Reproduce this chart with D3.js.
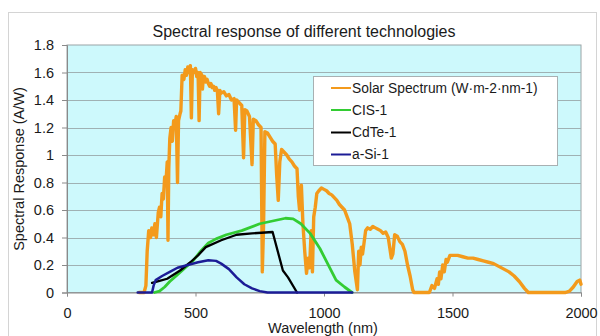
<!DOCTYPE html>
<html>
<head>
<meta charset="utf-8">
<script src="https://cdn.jsdelivr.net/npm/d3@7"></script>
<style>
  html, body { margin: 0; padding: 0; background: #ffffff; }
  svg { display: block; font-family: "Liberation Sans", Arial, sans-serif; }
</style>
</head>
<body>
<svg id="chart" width="600" height="336"></svg>
<script>
// Wavelength (nm) and irradiance for the AM1.5 solar spectrum
const solarWavelength = [280,300,307,312,318,325,330,336,342,348,355,360,365,370,375,380,385,390,393,396,400,405,410,415,420,425,430,434,440,443,448,455,460,465,470,475,480,484,488,495,500,505,510,514,518,525,527,530,535,540,545,550,555,560,565,570,575,580,585,590,595,600,610,620,630,640,650,656,660,670,680,687,692,700,710,720,725,735,745,755,760,765,770,780,790,800,810,816,822,828,835,845,855,865,875,885,895,900,905,912,918,925,932,938,944,950,955,960,966,972,980,990,1000,1010,1020,1030,1040,1050,1060,1070,1080,1090,1100,1110,1120,1130,1135,1140,1145,1150,1155,1162,1170,1180,1190,1200,1210,1220,1230,1240,1250,1262,1268,1275,1285,1295,1305,1315,1325,1335,1345,1350,1410,1420,1430,1440,1445,1450,1455,1462,1468,1475,1480,1490,1500,1520,1540,1560,1580,1600,1620,1640,1660,1680,1700,1720,1740,1760,1780,1795,1940,1955,1970,1985,1995,2000];
const solarValue = [0,0,0.05,0.3,0.45,0.4,0.47,0.42,0.5,0.4,0.58,0.62,0.55,0.72,0.68,0.84,0.8,0.95,0.38,0.9,1.12,1.2,1.1,1.25,1.22,1.28,0.8,1.25,1.3,1.32,1.58,1.55,1.62,1.58,1.64,1.6,1.65,1.27,1.62,1.6,1.63,1.57,1.6,1.25,1.6,1.58,1.48,1.55,1.57,1.53,1.55,1.52,1.5,1.52,1.49,1.5,1.47,1.49,1.47,1.3,1.47,1.45,1.46,1.43,1.44,1.4,1.41,1.18,1.4,1.38,1.36,0.98,1.33,1.32,1.28,0.93,1.26,1.25,1.22,1.2,0.15,0.5,1.17,1.16,1.13,1.1,1.08,0.85,0.67,0.95,1.04,1.02,1.0,0.97,0.95,0.92,0.9,0.7,0.6,0.78,0.5,0.3,0.14,0.25,0.18,0.45,0.15,0.55,0.62,0.72,0.74,0.76,0.75,0.74,0.72,0.71,0.69,0.67,0.64,0.62,0.6,0.55,0.5,0.35,0.15,0.02,0.3,0.2,0.33,0.28,0.35,0.45,0.47,0.46,0.48,0.47,0.46,0.45,0.43,0.44,0.4,0.25,0.28,0.42,0.41,0.37,0.35,0.3,0.2,0.12,0.02,0,0,0.05,0.03,0.1,0.06,0.15,0.1,0.2,0.15,0.24,0.22,0.27,0.27,0.27,0.26,0.25,0.25,0.24,0.23,0.22,0.21,0.19,0.17,0.15,0.12,0.08,0.03,0,0,0.01,0.04,0.08,0.09,0.06];

// Spectral response (A/W) of three cell technologies
const cisWavelength = [340,360,380,400,430,460,490,520,550,580,620,680,750,800,850,880,910,946,984,1047,1080,1109];
const cisValue = [0,0.01,0.04,0.08,0.13,0.18,0.23,0.3,0.36,0.39,0.42,0.45,0.5,0.52,0.54,0.535,0.5,0.43,0.32,0.09,0.04,0];

const cdteWavelength = [331,360,390,440,480,510,540,600,660,720,800,840,860,895];
const cdteValue = [0.07,0.085,0.1,0.16,0.22,0.27,0.33,0.38,0.42,0.43,0.44,0.16,0.11,0];

const asiWavelength = [275,331,337,345,370,400,430,470,510,550,580,600,630,660,690,720,750,780,1110];
const asiValue = [0,0,0.05,0.09,0.12,0.15,0.18,0.2,0.22,0.235,0.23,0.21,0.17,0.11,0.06,0.03,0.01,0,0];

const seriesNames = ["Solar Spectrum (W·m-2·nm-1)", "CIS-1", "CdTe-1", "a-Si-1"];
const seriesColors = ["#f39a1c", "#33cc33", "#000000", "#1c1c96"];
const seriesWidths = [3.4, 2.8, 2.3, 2.5];

const xTicks = [0, 500, 1000, 1500, 2000];
const yTicks = [0, 0.2, 0.4, 0.6, 0.8, 1, 1.2, 1.4, 1.6, 1.8];

const titleText = "Spectral response of different technologies";
const xTitle = "Wavelength (nm)";
const yTitle = "Spectral Response (A/W)";

const svg = d3.select("#chart");
const plot = { left: 67, right: 581, top: 45, bottom: 292.5 };

const x = d3.scaleLinear().domain([0, 2000]).range([plot.left, plot.right]);
const y = d3.scaleLinear().domain([0, 1.8]).range([plot.bottom, plot.top]);

// Outer chart frame
svg.append("rect")
  .attr("x", 8.5).attr("y", 12.5).attr("width", 588).attr("height", 340)
  .attr("fill", "#ffffff").attr("stroke", "#d4d4d4").attr("stroke-width", 1);

// Plot area background
svg.append("rect")
  .attr("x", plot.left).attr("y", plot.top)
  .attr("width", plot.right - plot.left).attr("height", plot.bottom - plot.top)
  .attr("fill", "#cdf9fc").attr("stroke", "#9aa4a6").attr("stroke-width", 1);

// Horizontal gridlines
svg.append("g").selectAll("line")
  .data(yTicks.filter(t => t > 0 && t < 1.8))
  .join("line")
  .attr("x1", plot.left).attr("x2", plot.right)
  .attr("y1", d => Math.round(y(d)) + 0.5).attr("y2", d => Math.round(y(d)) + 0.5)
  .attr("stroke", "#9fb1b3").attr("stroke-width", 1);

// Axes
const fmt = d => String(+d.toFixed(1));
const yAxis = svg.append("g")
  .attr("transform", `translate(${plot.left},0)`)
  .call(d3.axisLeft(y).tickValues(yTicks).tickFormat(fmt).tickSize(5).tickPadding(8));
const xAxis = svg.append("g")
  .attr("transform", `translate(0,${plot.bottom})`)
  .call(d3.axisBottom(x).tickValues(xTicks).tickFormat(d3.format("d")).tickSize(4).tickPadding(11));

[yAxis, xAxis].forEach(g => {
  g.select(".domain").attr("stroke", "#8a8a8a");
  g.selectAll(".tick line").attr("stroke", "#8a8a8a");
  g.selectAll(".tick text")
    .attr("fill", "#1a1a1a")
    .style("font-family", '"Liberation Sans", Arial, sans-serif')
    .style("font-size", "14.5px");
});

// Series lines
const line = d3.line().x(d => x(d[0])).y(d => y(d[1]));
const zip = (a, b) => a.map((v, i) => [v, b[i]]);
const seriesData = [
  zip(solarWavelength, solarValue),
  zip(cisWavelength, cisValue),
  zip(cdteWavelength, cdteValue),
  zip(asiWavelength, asiValue)
];

svg.append("g").selectAll("path")
  .data(seriesData)
  .join("path")
  .attr("d", line)
  .attr("fill", "none")
  .attr("stroke", (d, i) => seriesColors[i])
  .attr("stroke-width", (d, i) => seriesWidths[i])
  .attr("stroke-linejoin", "round")
  .attr("stroke-linecap", "round");

// Title and axis titles
svg.append("text")
  .attr("x", 304).attr("y", 36.5)
  .attr("text-anchor", "middle")
  .style("font-size", "16px").attr("fill", "#1a1a1a")
  .text(titleText);

svg.append("text")
  .attr("x", 323).attr("y", 333)
  .attr("text-anchor", "middle")
  .style("font-size", "14.5px").attr("fill", "#1a1a1a")
  .text(xTitle);

svg.append("text")
  .attr("transform", "translate(24,169) rotate(-90)")
  .attr("text-anchor", "middle")
  .style("font-size", "14.5px").attr("fill", "#1a1a1a")
  .text(yTitle);

// Legend
const legend = svg.append("g");
legend.append("rect")
  .attr("x", 313.5).attr("y", 76.5).attr("width", 244).attr("height", 89)
  .attr("fill", "#ffffff").attr("stroke", "#a8b0b2").attr("stroke-width", 1);

const rowY = [88, 110, 132.5, 154.5];
const rows = legend.selectAll("g.row")
  .data(seriesNames)
  .join("g")
  .attr("class", "row")
  .attr("transform", (d, i) => `translate(0,${rowY[i]})`);
rows.append("line")
  .attr("x1", 331).attr("x2", 351).attr("y1", 0).attr("y2", 0)
  .attr("stroke", (d, i) => seriesColors[i]).attr("stroke-width", 2);
rows.append("text")
  .attr("x", 352).attr("y", 0).attr("dy", "0.35em")
  .style("font-size", "13.8px").attr("fill", "#1a1a1a")
  .text(d => d);
</script>
</body>
</html>
